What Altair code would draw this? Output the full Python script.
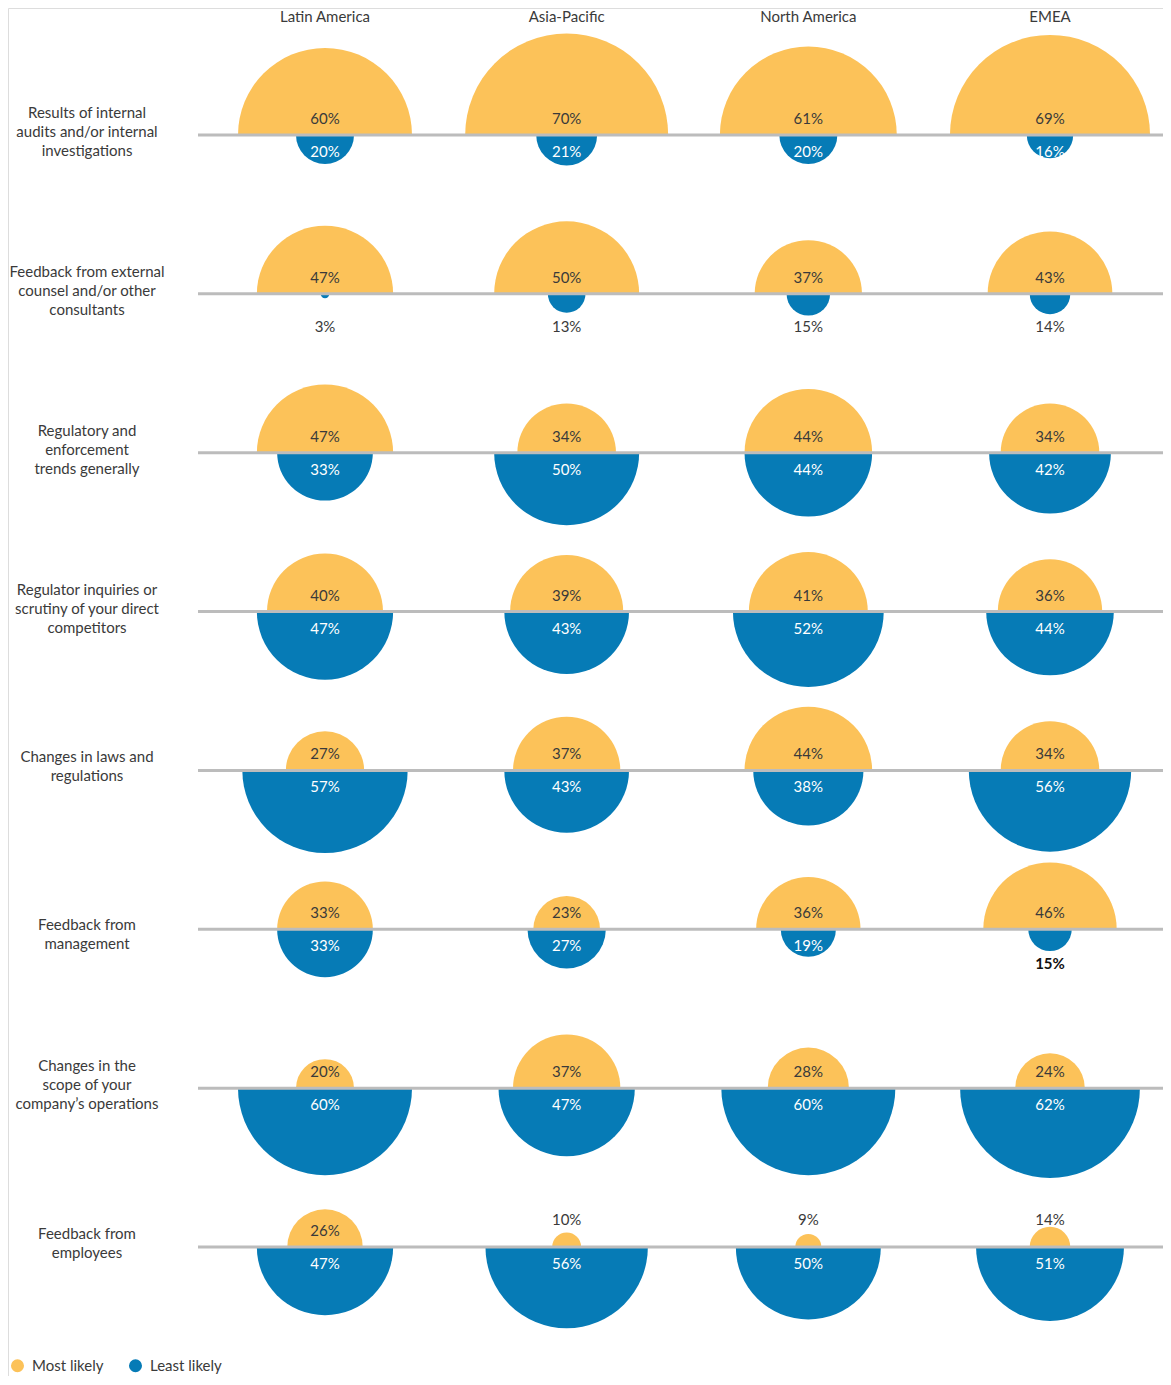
import math
import altair as alt
import pandas as pd

regions = ["Latin America", "Asia-Pacific", "North America", "EMEA"]
factors = [
    "Results of internal\naudits and/or internal\ninvestigations",
    "Feedback from external\ncounsel and/or other\nconsultants",
    "Regulatory and\nenforcement\ntrends generally",
    "Regulator inquiries or\nscrutiny of your direct\ncompetitors",
    "Changes in laws and\nregulations",
    "Feedback from\nmanagement",
    "Changes in the\nscope of your\ncompany\u2019s operations",
    "Feedback from\nemployees",
]
most_likely = [
    [60, 70, 61, 69],
    [47, 50, 37, 43],
    [47, 34, 44, 34],
    [40, 39, 41, 36],
    [27, 37, 44, 34],
    [33, 23, 36, 46],
    [20, 37, 28, 24],
    [26, 10, 9, 14],
]
least_likely = [
    [20, 21, 20, 16],
    [3, 13, 15, 14],
    [33, 50, 44, 42],
    [47, 43, 52, 44],
    [57, 43, 38, 56],
    [33, 27, 19, 15],
    [60, 47, 60, 62],
    [47, 56, 50, 51],
]
series = ["Most likely", "Least likely"]

rows = []
for fi, f in enumerate(factors):
    for ri, r in enumerate(regions):
        rows.append(dict(factor=f, fi=fi, region=r, type="Most likely",
                         value=most_likely[fi][ri], label=f"{most_likely[fi][ri]}%"))
        rows.append(dict(factor=f, fi=fi, region=r, type="Least likely",
                         value=least_likely[fi][ri], label=f"{least_likely[fi][ri]}%"))
df = pd.DataFrame(rows)
fdf = pd.DataFrame({"factor": factors,
                    "fi": list(range(len(factors))),
                    "lines": [f.count("\n") + 1 for f in factors]})
hdf = pd.DataFrame({"region": regions})

FONT = "Lato"
YELLOW = "#FCC259"
BLUE = "#067BB6"
TXT = "#3a3a3a"

xs = alt.Scale(type="point", domain=regions, range=[317, 1042], padding=0)
ys = alt.Scale(type="point", domain=factors, range=[127, 1239], padding=0)
rs = alt.Scale(type="linear", domain=[0, 100], range=[0, 145], zero=True)
cs = alt.Scale(domain=series, range=[YELLOW, BLUE])

X = alt.X("region:N", scale=xs, axis=None)
Y = alt.Y("factor:N", scale=ys, axis=None)
R = alt.Radius("value:Q", scale=rs, stack=None)

base = alt.Chart(df)

color_enc = alt.Color(
    "type:N", scale=cs,
    legend=alt.Legend(orient="none", legendX=2, legendY=1350, direction="horizontal",
                      title=None, symbolType="circle", symbolSize=170,
                      labelFontSize=15, labelFont=FONT, labelColor=TXT,
                      columnPadding=24, labelOffset=7, symbolStrokeWidth=0),
)

upper = base.transform_filter("datum.type == 'Most likely'").mark_arc(
    theta=3 * math.pi / 2, theta2=5 * math.pi / 2
).encode(x=X, y=Y, radius=R, color=color_enc)

lower = base.transform_filter("datum.type == 'Least likely'").mark_arc(
    theta=math.pi / 2, theta2=3 * math.pi / 2
).encode(x=X, y=Y, radius=R, color=color_enc)

rules = alt.Chart(fdf).mark_rule(color="#bcbcbc", strokeWidth=3).encode(
    y=Y, x=alt.value(190), x2=alt.value(1163)
)

def txt(filt, dy, color, weight="normal"):
    return base.transform_filter(filt).mark_text(
        font=FONT, fontSize=15, dy=dy, color=color, fontWeight=weight,
        align="center", baseline="middle"
    ).encode(x=X, y=Y, text="label:N")

t_up_in = txt("datum.type == 'Most likely' && datum.value >= 20", -16, TXT)
t_up_out = txt("datum.type == 'Most likely' && datum.value < 20", -27, TXT)
t_lo_in = txt("datum.type == 'Least likely' && datum.value >= 16", 17, "white")
t_lo_out = txt("datum.type == 'Least likely' && datum.value < 16 && !(datum.fi == 5 && datum.region == 'EMEA')", 33, TXT)
t_lo_out2 = txt("datum.type == 'Least likely' && datum.value < 16 && datum.fi == 5 && datum.region == 'EMEA'", 35, "#111111", "bold")

def left(filt, dy):
    return alt.Chart(fdf).transform_filter(filt).mark_text(
        font=FONT, fontSize=15, lineBreak="\n", lineHeight=19, color=TXT,
        align="center", baseline="middle", dy=dy
    ).encode(y=Y, x=alt.value(79), text="factor:N")

left3 = left("datum.lines == 3", -22)
left2 = left("datum.lines == 2 && datum.fi != 5", -13)
left2b = left("datum.lines == 2 && datum.fi == 5", -4)

headers = alt.Chart(hdf).mark_text(
    font=FONT, fontSize=15, color=TXT, align="center", baseline="middle"
).encode(x=X, y=alt.value(9), text="region:N")

chart = alt.layer(
    upper, lower, rules, t_up_in, t_up_out, t_lo_in, t_lo_out, t_lo_out2,
    left3, left2, left2b, headers
).properties(
    width=1155, height=1368, autosize=alt.AutoSizeParams(type="none"), padding=0
).configure_view(stroke=None).configure(background="white")

chart.save("out.html", embed_options={"renderer": "svg", "actions": False})
